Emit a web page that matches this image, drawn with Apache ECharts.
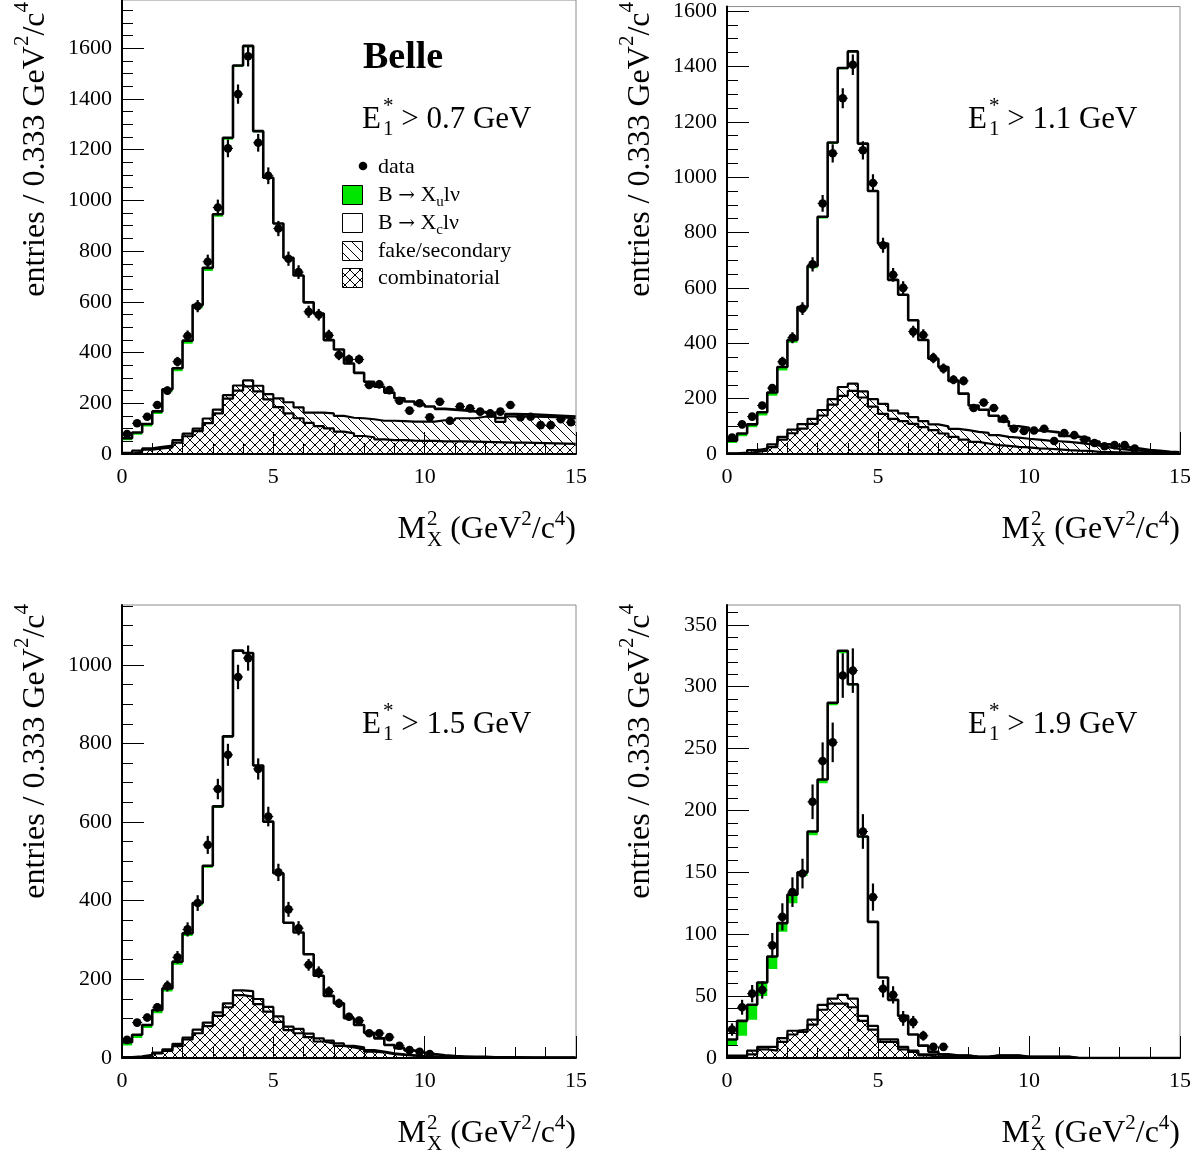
<!DOCTYPE html>
<html><head><meta charset="utf-8">
<script src="https://cdn.jsdelivr.net/npm/echarts@6.0.0/dist/echarts.min.js"></script>
<style>html,body{margin:0;padding:0;background:#fff;}#c{width:1203px;height:1152px;}</style>
</head><body><div id="c"></div>
<script>
// ================= DATA =================
const nBins = 45, xMin = 0, xMax = 15;
const cutLabels = ['0.7', '1.1', '1.5', '1.9'];
const xTickLabels = [0, 5, 10, 15];

// Panel 1: E1* > 0.7 GeV
const p1Data = [79,121,147,193,250,364,465,583,758,972,1205,1419,1568,1227,1097,889,770,717,561,549,468,390,373,373,272,275,252,210,171,200,145,206,131,187,180,167,160,167,193,145,147,114,114,137,125];
const p1Err  = [9,11,12,14,16,19,22,24,28,31,35,38,40,35,33,30,28,27,24,23,22,20,19,19,16,17,16,14,13,14,12,14,11,14,13,13,13,13,14,12,12,11,11,12,11];
const p1Xu   = [8,9,10,10,12,12,12,12,12,10,8,6,5,4,3,3,2,2,2,1,1,1,1,1,1,1,1,1,1,1,1,1,1,1,1,1,1,0,0,0,0,0,0,0,0];
const p1Xc   = [49,63,86,130,210,271,355,475,582,760,1007,1256,1314,1000,850,687,568,518,433,390,288,261,213,178,147,133,110,89,78,66,58,44,41,30,26,17,14,15,10,9,9,8,7,7,7];
const p1Fake = [3,5,5,6,7,10,10,10,18,15,14,20,23,22,21,34,44,43,40,53,59,62,62,70,71,73,76,75,75,76,76,83,83,91,92,99,100,81,103,103,103,103,103,102,101];
const p1Comb = [2,8,17,22,26,45,70,90,122,160,218,250,267,247,215,185,160,141,123,110,101,88,81,71,66,58,55,55,53,52,52,50,50,50,49,48,47,46,45,45,44,43,42,41,40];

// Panel 2: E1* > 1.1 GeV
const p2Data = [59,107,135,175,238,333,420,525,685,905,1086,1285,1406,1097,979,754,647,600,442,430,347,309,268,264,166,186,166,127,91,83,85,91,47,76,68,52,40,28,32,32,20,null,null,null,null];
const p2Err  = [8,10,12,13,15,18,20,23,26,30,33,36,37,33,31,27,25,24,21,21,19,18,16,16,13,14,13,11,10,9,9,10,7,9,8,7,6,5,6,6,4,0,0,0,0];
const p2Xu   = [8,10,10,12,12,12,10,10,8,6,5,4,3,2,2,2,1,1,1,1,1,1,1,1,1,0,0,0,0,0,0,0,0,0,0,0,0,0,0,0,0,0,0,0,0];
const p2Xc   = [38,59,83,119,175,240,314,413,544,692,922,1148,1197,893,750,577,471,427,349,292,236,213,172,131,94,84,70,56,41,40,33,34,32,21,22,22,15,11,10,9,8,4,5,2,1];
const p2Fake = [1,3,6,8,10,10,13,16,18,20,20,32,26,22,27,36,30,28,24,22,21,26,29,34,36,38,36,33,33,31,32,29,29,30,28,25,22,17,12,10,8,7,4,4,3];
const p2Comb = [1,2,8,12,25,52,75,92,109,139,178,210,228,204,171,145,127,119,109,97,86,74,62,52,44,38,32,29,26,24,20,19,17,14,12,11,8,7,6,5,4,3,3,2,2];

// Panel 3: E1* > 1.5 GeV
const p3Data = [46,90,103,129,183,256,327,394,542,684,771,969,1017,735,614,472,378,330,237,218,169,139,105,95,63,63,53,31,20,16,10,null,null,null,null,null,null,null,null,null,null,null,null,null,null];
const p3Err  = [7,9,10,11,14,16,18,20,23,26,28,31,32,27,25,22,19,18,15,15,13,12,10,10,8,8,7,6,4,4,3,0,0,0,0,0,0,0,0,0,0,0,0,0,0];
const p3Xu   = [8,8,8,8,8,8,7,6,5,4,3,3,2,2,1,1,1,1,1,1,0,0,0,0,0,0,0,0,0,0,0,0,0,0,0,0,0,0,0,0,0,0,0,0,0];
const p3Xc   = [30,47,68,100,147,201,258,316,394,520,676,861,858,592,470,363,263,244,201,158,114,102,70,57,44,34,21,16,12,9,6,4,2,2,1,1,1,1,1,0,0,0,0,0,0];
const p3Fake = [1,1,2,2,4,6,5,9,9,9,10,12,14,13,12,14,9,11,9,8,7,6,4,5,4,2,2,1,1,1,1,0,1,0,0,1,0,0,0,0,1,1,1,1,1];
const p3Comb = [1,3,6,12,18,30,47,63,81,107,129,160,156,137,118,92,71,63,53,42,37,31,27,22,16,14,10,8,6,4,3,3,2,2,2,1,1,1,1,1,0,0,0,0,0];

// Panel 4: E1* > 1.9 GeV
const p4Data = [23,41,52,55,91,114,134,149,207,240,255,309,313,183,130,56,51,32,29,18,9,9,null,null,null,null,null,null,null,null,null,null,null,null,null,null,null,null,null,null,null,null,null,null,null];
const p4Err  = [5,6,7,7,10,11,12,12,14,15,16,18,18,14,11,7,7,6,5,4,3,3,0,0,0,0,0,0,0,0,0,0,0,0,0,0,0,0,0,0,0,0,0,0,0];
const p4Xu   = [5,12,12,11,10,7,7,3,3,3,2,2,1,1,1,0,0,0,0,0,0,0,0,0,0,0,0,0,0,0,0,0,0,0,0,0,0,0,0,0,0,0,0,0,0];
const p4Xc   = [8,16,25,41,63,86,103,124,149,179,237,276,253,144,83,50,32,25,13,7,2,1,0,0,0,0,0,0,0,0,0,0,0,0,0,0,0,0,0,0,0,0,0,0,0];
const p4Fake = [1,1,3,2,3,3,3,2,4,4,4,7,7,4,3,2,2,2,1,1,2,1,1,1,1,1,1,1,1,1,1,1,1,1,0,0,0,0,0,0,0,0,0,0,0];
const p4Comb = [1,1,3,7,6,13,19,21,27,39,44,44,41,30,23,13,13,7,5,2,1,1,1,1,0,0,1,1,1,0,0,0,0,0,0,0,0,0,0,0,0,0,0,0,0];

// ================= LAYOUT =================
const panels = [
  {grid:{left:122, top:0,   width:454, height:454}, ymax:1790, major:200, minor:50, data:p1Data, err:p1Err, xu:p1Xu, xc:p1Xc, fake:p1Fake, comb:p1Comb, cut:cutLabels[0], lab:[362,128], ytitle:[44,2],   xtitle:[576,538]},
  {grid:{left:727, top:0,   width:453, height:454}, ymax:1616, major:200, minor:50, data:p2Data, err:p2Err, xu:p2Xu, xc:p2Xc, fake:p2Fake, comb:p2Comb, cut:cutLabels[1], lab:[968,128], ytitle:[649,2],  xtitle:[1180,538]},
  {grid:{left:122, top:605, width:454, height:453}, ymax:1152, major:200, minor:50, data:p3Data, err:p3Err, xu:p3Xu, xc:p3Xc, fake:p3Fake, comb:p3Comb, cut:cutLabels[2], lab:[362,733], ytitle:[44,604], xtitle:[576,1142]},
  {grid:{left:727, top:605, width:453, height:453}, ymax:366,  major:50,  minor:10, data:p4Data, err:p4Err, xu:p4Xu, xc:p4Xc, fake:p4Fake, comb:p4Comb, cut:cutLabels[3], lab:[968,733], ytitle:[649,604], xtitle:[1180,1142]}
];

const FONT = '"Liberation Serif", "Times New Roman", serif';
const ARROWFONT = '"DejaVu Serif", "DejaVu Sans", serif';
const binW = (xMax - xMin) / nBins;
const edge = i => xMin + i * binW;

// hatch patterns
function makeHatch(cross) {
  const s = 10, c = document.createElement('canvas');
  c.width = s; c.height = s;
  const g = c.getContext('2d');
  g.strokeStyle = '#000'; g.lineWidth = 1;
  g.beginPath();
  for (const o of [-s, 0, s]) { g.moveTo(o, 0); g.lineTo(o + s, s); }
  if (cross) for (const o of [-s, 0, s]) { g.moveTo(o, s); g.lineTo(o + s, 0); }
  g.stroke();
  return c;
}
const patDiag = {image: makeHatch(false), repeat: 'repeat'};
const patCross = {image: makeHatch(true), repeat: 'repeat'};
const GREEN = '#00e600';
const layerFills = [patCross, patDiag, '#ffffff', GREEN];

// text measuring helpers
const mctx = document.createElement('canvas').getContext('2d');
const fontStr = (fs, bold, fam) => (bold ? 'bold ' : '') + fs + 'px ' + (fam || FONT);
function tw(t, fs, bold, fam) { mctx.font = fontStr(fs, bold, fam); mctx.textBaseline = 'alphabetic'; return mctx.measureText(t).width; }
function midOff(fs, bold, fam) { mctx.font = fontStr(fs, bold, fam); mctx.textBaseline = 'middle'; const m = mctx.measureText('H'); mctx.textBaseline = 'alphabetic'; return m.actualBoundingBoxDescent; }
function run(pieces, X0, Y0, opt) {
  opt = opt || {};
  let s = 0; const items = [];
  for (const p of pieces) {
    s += p.gap || 0;
    if (p.stack) {
      let w = 0;
      for (const q of p.stack) { items.push({t:q.t, fs:p.fs, bold:p.bold, fam:p.fam, dy:q.dy || 0, s}); w = Math.max(w, tw(q.t, p.fs, p.bold, p.fam)); }
      s += w;
    } else {
      items.push({t:p.t, fs:p.fs, bold:p.bold, fam:p.fam, dy:p.dy || 0, s});
      s += tw(p.t, p.fs, p.bold, p.fam);
    }
  }
  const L = s, els = [];
  for (const it of items) {
    const off = it.dy + midOff(it.fs, it.bold, it.fam);
    let x, y, rot = 0;
    if (opt.rotate) {
      const startY = opt.anchorEnd ? Y0 + L : Y0;
      x = X0 - off; y = startY - it.s; rot = Math.PI / 2;
    } else {
      const startX = opt.anchorEnd ? X0 - L : X0;
      x = startX + it.s; y = Y0 - off;
    }
    els.push({type:'text', x, y, rotation: rot, silent:true, z:50,
      style:{text: it.t, font: fontStr(it.fs, it.bold, it.fam), fill:'#000', align:'left', verticalAlign:'middle', textAlign:'left', textVerticalAlign:'middle'}});
  }
  return els;
}

// ================= OPTION =================
const grids = [], xAxes = [], yAxes = [], series = [], graphics = [];
const axisFont = {fontSize:22, fontFamily: FONT, color:'#000', formatter: v => String(v)};

panels.forEach((P, gi) => {
  grids.push(Object.assign({show:true, borderColor:'#8c8c8c', borderWidth:1, z:10, containLabel:false}, P.grid));
  xAxes.push({gridIndex:gi, type:'value', min:xMin, max:xMax, interval:5, z:10,
    axisLine:{show:true, onZero:false, lineStyle:{color:'#000', width:2}},
    axisTick:{show:true, inside:true, length:22, lineStyle:{color:'#000', width:1}},
    minorTick:{show:true, splitNumber:5, length:11, lineStyle:{color:'#000', width:1}},
    axisLabel:Object.assign({margin:12, customValues: xTickLabels}, axisFont),
    splitLine:{show:false}, minorSplitLine:{show:false}});
  const majors = [], minors = [];
  for (let v = 0; v <= P.ymax; v += P.major) majors.push(v);
  for (let v = P.minor; v < P.ymax; v += P.minor) if (v % P.major !== 0) minors.push(v);
  yAxes.push({gridIndex:gi, type:'value', min:0, max:P.ymax, interval:P.major, position:'left', z:10,
    axisLine:{show:true, onZero:false, lineStyle:{color:'#000', width:2}},
    axisTick:{show:true, inside:true, length:22, lineStyle:{color:'#000', width:1}, customValues: majors},
    axisLabel:Object.assign({margin:10, customValues: majors}, axisFont),
    splitLine:{show:false}});
  yAxes.push({gridIndex:gi, type:'value', min:0, max:P.ymax, interval:P.major, position:'left', offset:0, z:10,
    axisLine:{show:false},
    axisTick:{show:true, inside:true, length:11, lineStyle:{color:'#000', width:1}, customValues: minors},
    axisLabel:{show:false}, splitLine:{show:false}});

  const layers = [P.comb, P.fake, P.xc, P.xu];
  const cum = [];  // cumulative tops for each layer
  let prev = new Array(nBins).fill(0);
  layers.forEach(L => { const c = prev.map((v, i) => v + L[i]); cum.push(c); prev = c; });

  // stacked fills
  series.push({type:'custom', xAxisIndex:gi, yAxisIndex:2*gi, z:1, silent:true, clip:true,
    data: layers.map((L, k) => [7.5, 0, k]),
    renderItem: function (params, api) {
      const k = params.dataIndex;
      const upper = cum[k], lower = k > 0 ? cum[k-1] : new Array(nBins).fill(0);
      const pts = [];
      for (let i = 0; i < nBins; i++) { pts.push(api.coord([edge(i), upper[i]])); pts.push(api.coord([edge(i+1), upper[i]])); }
      for (let i = nBins - 1; i >= 0; i--) { pts.push(api.coord([edge(i+1), lower[i]])); pts.push(api.coord([edge(i), lower[i]])); }
      return {type:'polygon', shape:{points:pts}, style:{fill: layerFills[k], stroke: null}};
    }});

  // outlines: combinatorial top, fake/secondary top, total
  [cum[0], cum[1], cum[3]].forEach((top, j) => {
    const d = top.map((v, i) => [edge(i), v]);
    d.push([edge(nBins), top[nBins - 1]]);
    series.push({type:'line', xAxisIndex:gi, yAxisIndex:2*gi, z:3, step:'end', data:d, symbol:'none', silent:true,
      lineStyle:{color:'#000', width: j === 2 ? 2.6 : 2.2}, clip:true});
  });

  // data points with error bars
  const pts = [];
  P.data.forEach((v, i) => { if (v !== null) pts.push([edge(i) + binW / 2, v, P.err[i]]); });
  series.push({type:'custom', xAxisIndex:gi, yAxisIndex:2*gi, z:4, silent:true, clip:true, data:pts,
    renderItem: function (params, api) {
      const x = api.value(0), v = api.value(1), e = api.value(2);
      const c = api.coord([x, v]), t = api.coord([x, v + e]), b = api.coord([x, Math.max(v - e, 0)]);
      const l = api.coord([x - binW / 2, v]), r = api.coord([x + binW / 2, v]);
      return {type:'group', children:[
        {type:'line', shape:{x1:c[0], y1:t[1], x2:c[0], y2:b[1]}, style:{stroke:'#000', lineWidth:2.2}},
        {type:'line', shape:{x1:l[0], y1:c[1], x2:r[0], y2:c[1]}, style:{stroke:'#000', lineWidth:1}},
        {type:'circle', shape:{cx:c[0], cy:c[1], r:4.3}, style:{fill:'#000'}}
      ]};
    }});

  // axis titles
  graphics.push(...run([{t:'entries / 0.333 GeV', fs:32}, {t:'2', fs:21, dy:16}, {t:'/c', fs:32}, {t:'4', fs:21, dy:16}],
    P.ytitle[0], P.ytitle[1], {rotate:true, anchorEnd:true}));
  graphics.push(...run([{t:'M', fs:32}, {stack:[{t:'X', dy:-8}, {t:'2', dy:13}], fs:21, gap:1}, {t:' (GeV', fs:32},
    {t:'2', fs:21, dy:13}, {t:'/c', fs:32}, {t:'4', fs:21, dy:13}, {t:')', fs:32}],
    P.xtitle[0], P.xtitle[1], {anchorEnd:true}));
  // cut label
  graphics.push(...run([{t:'E', fs:31}, {stack:[{t:'1', dy:-7}, {t:'*', dy:16}], fs:21, gap:2}, {t:' > ' + P.cut + ' GeV', fs:31}],
    P.lab[0], P.lab[1]));
});

// Belle label and legend (panel 1)
graphics.push(...run([{t:'Belle', fs:38, bold:true}], 363, 68));
graphics.push({type:'circle', shape:{cx:363, cy:166, r:4.3}, style:{fill:'#000'}, z:50, silent:true});
graphics.push(...run([{t:'data', fs:22}], 378, 173));
const legendRows = [
  {c:194, fill:GREEN, text:[{t:'B ', fs:22}, {t:'\u2192', fs:20, fam:ARROWFONT}, {t:' X', fs:22}, {t:'u', fs:15, dy:-5}, {t:'l\u03bd', fs:22}]},
  {c:222, fill:'#fff', text:[{t:'B ', fs:22}, {t:'\u2192', fs:20, fam:ARROWFONT}, {t:' X', fs:22}, {t:'c', fs:15, dy:-5}, {t:'l\u03bd', fs:22}]},
  {c:250, fill:patDiag, text:[{t:'fake/secondary', fs:22}]},
  {c:277, fill:patCross, text:[{t:'combinatorial', fs:22}]}
];
legendRows.forEach(r => {
  graphics.push({type:'rect', shape:{x:342.5, y:Math.round(r.c - 9.5) + 0.5, width:20, height:19}, style:{fill:r.fill, stroke:'#000', lineWidth:1}, z:50, silent:true});
  graphics.push(...run(r.text, 378, r.c + 7));
});

const chart = echarts.init(document.getElementById('c'), null, {renderer:'canvas'});
chart.setOption({
  animation:false, backgroundColor:'#fff',
  grid:grids, xAxis:xAxes, yAxis:yAxes, series:series, graphic:{elements:graphics}
});
</script></body></html>
